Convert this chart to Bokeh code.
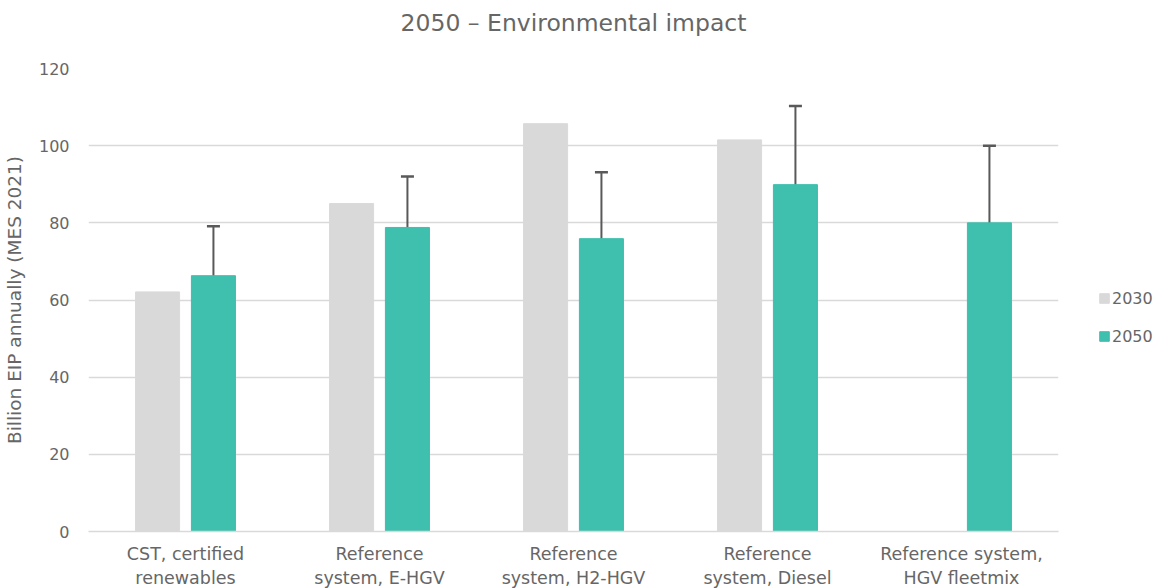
import math
from bokeh.plotting import figure
from bokeh.models import ColumnDataSource, Range1d, Whisker, TeeHead, Legend, LegendItem, FactorRange
from bokeh.transform import dodge
from bokeh.embed import file_html
from bokeh.resources import INLINE

categories = ["CST, certified\nrenewables", "Reference\nsystem, E-HGV", "Reference\nsystem, H2-HGV",
              "Reference\nsystem, Diesel", "Reference system,\nHGV fleetmix"]
values_2030 = [62.1, 85.0, 105.7, 101.5, float("nan")]
values_2050 = [66.3, 78.8, 75.9, 89.9, 80.0]
err_upper_2050 = [79.1, 92.0, 93.1, 110.3, 100.0]
err_lower_2050 = [55.7, 65.7, 61.7, 73.3, 64.0]
tick_values = [0, 20, 40, 60, 80, 100, 120]

TXT = "#666666"
FONT = "DejaVu Sans"

src = ColumnDataSource(dict(cat=categories, v2030=values_2030, v2050=values_2050,
                            upper=err_upper_2050, lower=err_lower_2050))

p = figure(frame_width=970, frame_height=463, x_range=FactorRange(*categories), y_range=Range1d(0, 120),
           output_backend="svg", toolbar_location=None, title="2050 – Environmental impact\n")
p.min_border_left = 80
p.min_border_right = 96
p.min_border_top = 68
p.min_border_bottom = 10
p.outline_line_color = None
p.x_range.range_padding = 0

p.title.align = "center"
p.title.text_font = FONT
p.title.text_font_size = "23.5px"
p.title.text_font_style = "normal"
p.title.text_color = TXT
p.title.standoff = 8

off = 0.144
w = 0.227
r1 = p.vbar(x=dodge("cat", -off, range=p.x_range), top="v2030", width=w, source=src,
            fill_color="#d9d9d9", line_color="#d9d9d9")
r2 = p.vbar(x=dodge("cat", off, range=p.x_range), top="v2050", width=w, source=src,
            fill_color="#3fbfad", line_color="#3fbfad")

wh = Whisker(base=dodge("cat", off, range=p.x_range), upper="upper", lower="lower", source=src,
             line_color="#595959", line_width=2,
             upper_head=TeeHead(size=13, line_color="#595959", line_width=2.5),
             lower_head=TeeHead(size=13, line_color="#595959", line_width=2.5))
p.add_layout(wh)

p.yaxis.ticker = tick_values
p.yaxis.axis_line_color = None
p.yaxis.major_tick_line_color = None
p.yaxis.minor_tick_line_color = None
p.yaxis.major_label_text_font = FONT
p.yaxis.major_label_text_font_size = "16px"
p.yaxis.major_label_text_color = TXT
p.yaxis.major_label_standoff = 13
p.yaxis.axis_label = "Billion EIP annually (MES 2021)"
p.yaxis.axis_label_text_font = FONT
p.yaxis.axis_label_text_font_size = "18.5px"
p.yaxis.axis_label_text_font_style = "normal"
p.yaxis.axis_label_text_color = TXT
p.yaxis.axis_label_standoff = 11

p.xaxis.axis_line_color = "#d9d9d9"
p.xaxis.axis_line_width = 1.5
p.xaxis.major_tick_line_color = None
p.xaxis.minor_tick_line_color = None
p.xaxis.major_label_text_font = FONT
p.xaxis.major_label_text_font_size = "17.5px"
p.xaxis.major_label_text_color = TXT
p.xaxis.major_label_standoff = 6

p.xgrid.grid_line_color = None
p.ygrid.grid_line_color = "#d9d9d9"
p.ygrid.grid_line_width = 1.5

legend = Legend(items=[LegendItem(label="2030", renderers=[r1]),
                       LegendItem(label="2050", renderers=[r2])],
                location=(40, 184), orientation="vertical")
legend.border_line_color = None
legend.background_fill_alpha = 0
legend.label_text_font = FONT
legend.label_text_font_size = "16px"
legend.label_text_color = TXT
legend.glyph_width = 12
legend.glyph_height = 12
legend.label_standoff = 2
legend.spacing = 16
legend.padding = 0
legend.margin = 0
legend.label_height = 22
p.add_layout(legend, "right")

open("out.html", "w").write(file_html(p, INLINE))
